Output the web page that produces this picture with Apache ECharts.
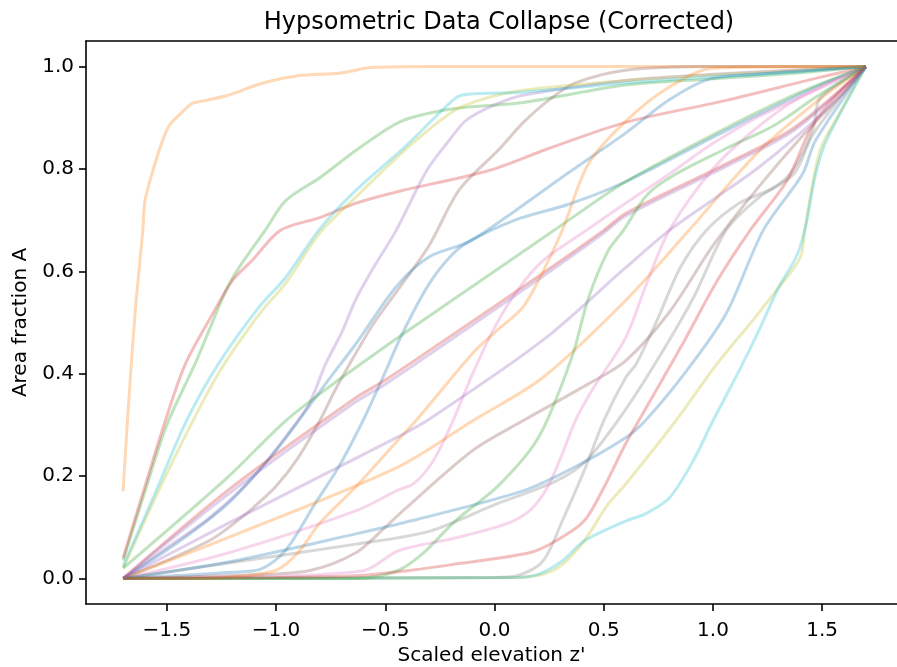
<!DOCTYPE html>
<html>
<head>
<meta charset="utf-8">
<script src="https://cdn.jsdelivr.net/npm/echarts@6/dist/echarts.min.js"></script>
<style>html,body{margin:0;padding:0;background:#fff}#c{width:897px;height:667px}</style>
</head>
<body>
<div id="c"></div>
<script>
// ---- data: each curve as [z', A] pairs ----
const xTicks = [-1.5, -1.0, -0.5, 0.0, 0.5, 1.0, 1.5];
const yTicks = [0.0, 0.2, 0.4, 0.6, 0.8, 1.0];

const blueA = [[-1.7,0],[-1.2,0.012],[-1.07,0.018],[-0.956,0.055],[-0.82,0.147],[-0.713,0.218],[-0.6,0.31],[-0.516,0.388],[-0.42,0.48],[-0.3,0.575],[-0.2,0.63],[-0.117,0.658],[0.1,0.701],[0.34,0.731],[0.6,0.775],[1.06,0.875],[1.47,0.96],[1.7,1.0]];
const blueB = [[-1.7,0],[-1.45,0.07],[-1.218,0.147],[-1.0,0.25],[-0.897,0.308],[-0.76,0.388],[-0.635,0.458],[-0.45,0.57],[-0.3,0.628],[-0.117,0.658],[0.1,0.72],[0.34,0.793],[0.6,0.87],[0.8,0.935],[0.98,0.975],[1.2,0.985],[1.7,1.0]];
const blueC = [[-1.7,0],[-1.218,0.032],[-0.635,0.087],[-0.33,0.118],[0.13,0.171],[0.36,0.216],[0.6,0.275],[0.69,0.308],[0.88,0.406],[1.06,0.517],[1.23,0.68],[1.41,0.79],[1.47,0.856],[1.7,1.0]];

const orangeA = [[-1.7,0.17],[-1.68,0.31],[-1.645,0.52],[-1.61,0.68],[-1.6,0.738],[-1.545,0.823],[-1.493,0.882],[-1.43,0.911],[-1.383,0.928],[-1.32,0.934],[-1.22,0.944],[-1.06,0.968],[-0.9,0.982],[-0.71,0.987],[-0.635,0.993],[-0.57,0.998],[-0.3,1.0],[0,1.0],[1.7,1.0]];
const orangeB = [[-1.7,0],[-1.218,0.08],[-0.44,0.218],[-0.1,0.308],[0.22,0.392],[0.6,0.543],[0.89,0.68],[1.2,0.83],[1.47,0.93],[1.7,1.0]];
const orangeC = [[-1.7,0],[-1.4,0],[-1.2,0.003],[-1.0,0.016],[-0.9,0.05],[-0.8,0.108],[-0.635,0.179],[-0.44,0.271],[-0.36,0.308],[-0.1,0.44],[0.0,0.48],[0.13,0.53],[0.22,0.598],[0.31,0.68],[0.43,0.81],[0.6,0.893],[0.8,0.96],[1.0,0.997],[1.7,1.0]];

const greenA = [[-1.7,0.035],[-1.6,0.17],[-1.5,0.3],[-1.37,0.42],[-1.23,0.562],[-1.17,0.607],[-1.05,0.68],[-0.956,0.738],[-0.8,0.783],[-0.635,0.836],[-0.48,0.881],[-0.39,0.899],[-0.18,0.918],[0.13,0.93],[0.6,0.964],[1.0,0.976],[1.4,0.988],[1.7,1.0]];
const greenB = [[-1.7,0.02],[-1.218,0.199],[-0.956,0.308],[-0.713,0.388],[-0.39,0.486],[0.0,0.6],[0.34,0.70],[0.6,0.775],[1.06,0.88],[1.4,0.95],[1.7,1.0]];
const greenC = [[-1.7,0],[-0.635,0.0],[-0.45,0.014],[-0.33,0.048],[-0.18,0.112],[0.007,0.177],[0.16,0.249],[0.24,0.308],[0.36,0.44],[0.43,0.548],[0.52,0.64],[0.59,0.68],[0.7,0.75],[0.83,0.79],[1.06,0.84],[1.28,0.885],[1.47,0.94],[1.7,1.0]];

const redA = [[-1.7,0.04],[-1.6,0.18],[-1.507,0.308],[-1.415,0.419],[-1.29,0.517],[-1.2,0.582],[-1.11,0.621],[-0.98,0.68],[-0.8,0.705],[-0.635,0.733],[-0.44,0.756],[-0.025,0.797],[0.236,0.838],[0.6,0.891],[1.06,0.934],[1.47,0.977],[1.7,1.0]];
const redB = [[-1.7,0],[-1.218,0.173],[-0.635,0.353],[-0.498,0.388],[0.22,0.596],[0.5,0.68],[0.6,0.713],[1.06,0.81],[1.37,0.88],[1.7,1.0]];
const redC = [[-1.7,0],[-1.0,0.002],[-0.635,0.005],[-0.4,0.015],[-0.18,0.028],[0.16,0.05],[0.28,0.073],[0.41,0.112],[0.5,0.177],[0.6,0.263],[0.66,0.308],[0.87,0.465],[1.02,0.582],[1.17,0.68],[1.34,0.778],[1.47,0.895],[1.7,1.0]];

const purpleA = [[-1.7,0],[-1.5,0.06],[-1.3,0.12],[-1.1,0.2],[-0.95,0.28],[-0.85,0.34],[-0.773,0.419],[-0.7,0.48],[-0.635,0.545],[-0.55,0.61],[-0.45,0.68],[-0.31,0.797],[-0.2,0.86],[-0.13,0.895],[0.0,0.925],[0.13,0.944],[0.6,0.973],[1.0,0.985],[1.7,1.0]];
const purpleB = [[-1.7,0],[-1.218,0.165],[-0.635,0.345],[-0.498,0.38],[0.22,0.59],[0.5,0.675],[0.6,0.708],[1.06,0.805],[1.37,0.875],[1.7,1.0]];
const purpleC = [[-1.7,0],[-1.218,0.108],[-0.44,0.277],[-0.31,0.308],[0.22,0.465],[0.6,0.607],[0.8,0.68],[1.0,0.74],[1.2,0.8],[1.4,0.87],[1.6,0.95],[1.7,1.0]];

const brownA = [[-1.7,0],[-1.5,0.035],[-1.3,0.075],[-1.2,0.105],[-1.1,0.14],[-1.0,0.18],[-0.9,0.235],[-0.8,0.308],[-0.727,0.37],[-0.635,0.44],[-0.55,0.5],[-0.44,0.565],[-0.3,0.65],[-0.16,0.76],[0.02,0.838],[0.13,0.89],[0.25,0.935],[0.37,0.968],[0.6,0.993],[1.0,1.0],[1.7,1.0]];
const brownB = [[-1.7,0],[-1.1,0.007],[-0.84,0.016],[-0.635,0.05],[-0.5,0.1],[-0.42,0.132],[-0.1,0.25],[0.13,0.308],[0.43,0.38],[0.6,0.425],[0.8,0.52],[1.0,0.65],[1.2,0.76],[1.4,0.86],[1.6,0.95],[1.7,1.0]];

const pinkA = [[-1.7,0],[-1.218,0.05],[-0.635,0.132],[-0.44,0.173],[-0.37,0.185],[-0.28,0.23],[-0.19,0.308],[-0.1,0.40],[0.0,0.49],[0.1,0.56],[0.22,0.62],[0.42,0.68],[0.6,0.733],[0.8,0.79],[1.0,0.85],[1.2,0.9],[1.4,0.94],[1.6,0.98],[1.7,1.0]];
const pinkB = [[-1.7,0],[-1.2,0.003],[-0.6,0.015],[-0.44,0.054],[-0.18,0.079],[0.05,0.106],[0.16,0.132],[0.24,0.176],[0.31,0.243],[0.37,0.308],[0.45,0.37],[0.6,0.47],[0.7,0.58],[0.8,0.68],[1.0,0.8],[1.2,0.88],[1.4,0.94],[1.7,1.0]];

const grayA = [[-1.7,0],[-1.218,0.03],[-0.635,0.067],[-0.3,0.092],[0.007,0.145],[0.28,0.19],[0.42,0.23],[0.6,0.33],[0.75,0.43],[0.91,0.548],[1.06,0.68],[1.21,0.744],[1.37,0.79],[1.46,0.869],[1.7,1.0]];
const grayB = [[-1.7,0],[0.0,0.002],[0.1,0.005],[0.22,0.033],[0.31,0.112],[0.41,0.21],[0.5,0.308],[0.6,0.392],[0.65,0.42],[0.75,0.51],[0.85,0.607],[0.97,0.68],[1.12,0.733],[1.28,0.764],[1.37,0.8],[1.46,0.88],[1.49,0.938],[1.7,1.0]];

const oliveA = [[-1.7,0.02],[-1.55,0.16],[-1.39,0.3],[-1.25,0.41],[-1.07,0.52],[-0.95,0.58],[-0.8,0.675],[-0.635,0.745],[-0.41,0.837],[-0.18,0.915],[-0.025,0.94],[0.13,0.954],[0.6,0.973],[1.0,0.984],[1.7,1.0]];
const oliveB = [[-1.7,0],[0.1,0.002],[0.22,0.008],[0.31,0.027],[0.41,0.073],[0.52,0.145],[0.6,0.184],[0.83,0.308],[1.02,0.42],[1.18,0.503],[1.3,0.568],[1.4,0.627],[1.42,0.68],[1.49,0.836],[1.58,0.909],[1.7,1.0]];

const cyanA = [[-1.7,0.024],[-1.55,0.17],[-1.41,0.308],[-1.264,0.419],[-1.08,0.529],[-0.956,0.588],[-0.805,0.68],[-0.635,0.758],[-0.41,0.843],[-0.18,0.938],[-0.12,0.946],[0.13,0.95],[0.6,0.968],[1.0,0.98],[1.4,0.99],[1.7,1.0]];
const cyanB = [[-1.7,0],[0.1,0.002],[0.2,0.008],[0.31,0.034],[0.41,0.073],[0.6,0.112],[0.69,0.126],[0.8,0.157],[0.91,0.23],[1.0,0.308],[1.12,0.406],[1.21,0.484],[1.3,0.568],[1.38,0.627],[1.42,0.68],[1.47,0.79],[1.52,0.856],[1.7,1.0]];

const curves = [
  [blueA,'#1f77b4'],[orangeA,'#ff7f0e'],[greenA,'#2ca02c'],[redA,'#d62728'],[purpleA,'#9467bd'],
  [brownA,'#8c564b'],[pinkA,'#e377c2'],[grayA,'#7f7f7f'],[oliveA,'#bcbd22'],[cyanA,'#17becf'],
  [blueB,'#1f77b4'],[orangeB,'#ff7f0e'],[greenB,'#2ca02c'],[redB,'#d62728'],[purpleB,'#9467bd'],
  [brownB,'#8c564b'],[pinkB,'#e377c2'],[grayB,'#7f7f7f'],[oliveB,'#bcbd22'],[cyanB,'#17becf'],
  [blueC,'#1f77b4'],[orangeC,'#ff7f0e'],[greenC,'#2ca02c'],[redC,'#d62728'],[purpleC,'#9467bd']
];

const FONT = 'DejaVu Sans';
const chart = echarts.init(document.getElementById('c'), null, {renderer: 'canvas'});
const fmt = v => (v < 0 ? '\u2212' : '') + Math.abs(v).toFixed(1);
const spine = {color: '#000', width: 1.6};

chart.setOption({
  animation: false,
  backgroundColor: '#fff',
  title: {
    text: 'Hypsometric Data Collapse (Corrected)',
    left: 494, top: 6, textAlign: 'center',
    textStyle: {fontFamily: FONT, fontSize: 24, fontWeight: 'normal', color: '#000'}
  },
  grid: {left: 86, top: 41, right: 0, bottom: 63, show: false, containLabel: false, outerBoundsMode: 'none'},
  xAxis: [{
    type: 'value', min: -1.87, max: 1.8425,
    name: "Scaled elevation z'", nameLocation: 'middle', nameGap: 42,
    nameTextStyle: {fontFamily: FONT, fontSize: 20, color: '#000'},
    axisLine: {show: true, onZero: false, lineStyle: spine},
    axisTick: {show: true, length: 7, lineStyle: spine, customValues: xTicks},
    axisLabel: {fontFamily: FONT, fontSize: 20, color: '#000', margin: 17, customValues: xTicks, formatter: fmt},
    splitLine: {show: false}
  }, {
    type: 'value', position: 'top', min: -1.87, max: 1.8425,
    axisLine: {show: true, onZero: false, lineStyle: spine},
    axisTick: {show: false}, axisLabel: {show: false}, splitLine: {show: false}
  }],
  yAxis: {
    type: 'value', min: -0.05, max: 1.05,
    name: 'Area fraction A', nameLocation: 'middle', nameGap: 55, nameRotate: 90,
    nameTextStyle: {fontFamily: FONT, fontSize: 20, color: '#000'},
    axisLine: {show: true, onZero: false, lineStyle: spine},
    axisTick: {show: true, length: 7, lineStyle: spine, customValues: yTicks},
    axisLabel: {fontFamily: FONT, fontSize: 20, color: '#000', margin: 12, customValues: yTicks, formatter: v => v.toFixed(1)},
    splitLine: {show: false}
  },
  series: curves.map(([d, c]) => ({
    type: 'line', data: d, showSymbol: false, smooth: 0.3,
    lineStyle: {color: c, width: 3, opacity: 0.3}, itemStyle: {color: c}, emphasis: {disabled: true}, silent: true
  }))
});
</script>
</body>
</html>
